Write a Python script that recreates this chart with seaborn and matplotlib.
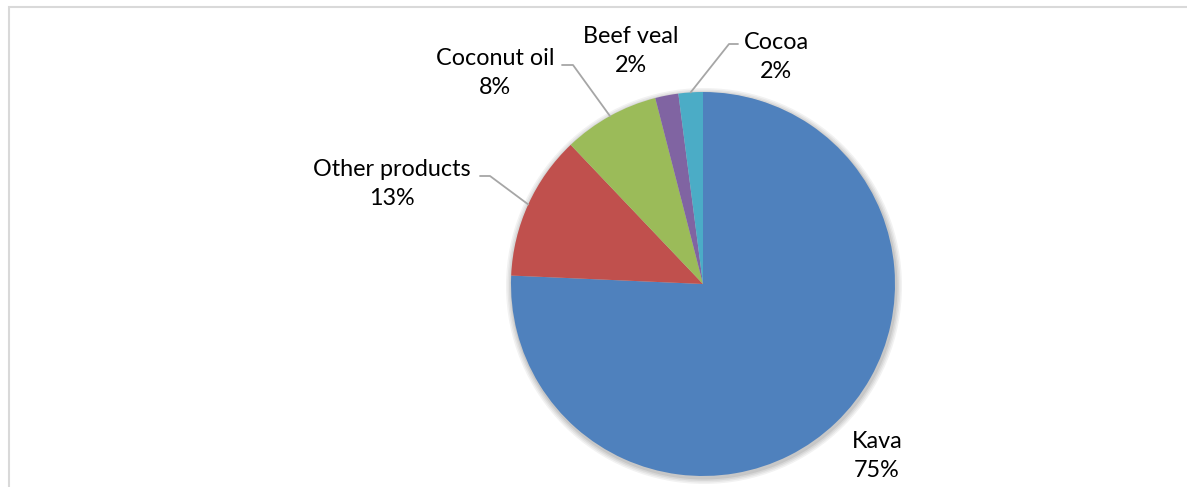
import numpy as np
import matplotlib.pyplot as plt
import seaborn as sns
from matplotlib.patches import Rectangle, Circle

# Data
products = ['Kava', 'Other products', 'Coconut oil', 'Beef veal', 'Cocoa']
shares = [75.7, 12.2, 8.1, 1.95, 2.05]
pct_labels = ['75%', '13%', '8%', '2%', '2%']
colors = ['#4F81BD', '#C0504D', '#9BBB59', '#8064A2', '#4BACC6']

sns.set_theme(style='white')
plt.rcParams['font.family'] = ['Lato', 'DejaVu Sans']

W, H = 1187, 487
fig = plt.figure(figsize=(W / 100, H / 100), dpi=100)
ax = fig.add_axes([0, 0, 1, 1])

# chart frame
ax.add_patch(Rectangle((9, -20), W + 20, H - 7 + 20, fill=False,
                       edgecolor='#D9D9D9', lw=1.5))

cx, cy, r = 703, H - 284, 192

# soft shadow behind the pie
for k, a in enumerate([0.05, 0.05, 0.06, 0.07]):
    ax.add_patch(Circle((cx + 1, cy - 2), r + 6 - k * 1.5, color='#000000',
                        alpha=a, lw=0, zorder=1))

wedges, _ = ax.pie(shares, colors=colors, startangle=90, counterclock=False,
                   center=(cx, cy), radius=r, frame=True,
                   wedgeprops=dict(linewidth=0, zorder=2))
ax.set_xlim(0, W)
ax.set_ylim(0, H)
ax.set_aspect('equal')
ax.axis('off')

# label positions (centre of the two-line label, image pixels) and leader elbows
label_pos = {
    'Kava': (877, 456),
    'Other products': (392, 184),
    'Coconut oil': (495, 73),
    'Beef veal': (631, 51),
    'Cocoa': (776, 57),
}
leaders = {
    'Other products': [(490, 176), (480, 176)],
    'Coconut oil': [(573, 65), (562, 65)],
    'Cocoa': [(729, 44), (738, 44)],
}

for w, name, pct in zip(wedges, products, pct_labels):
    lx, ly = label_pos[name]
    ax.text(lx, H - ly, f'{name}\n{pct}', ha='center', va='center',
            fontsize=16.8, color='#000000', linespacing=1.45, zorder=5)
    if name in leaders:
        ang = np.deg2rad((w.theta1 + w.theta2) / 2)
        px, py = cx + r * np.cos(ang), cy + r * np.sin(ang)
        xs = [px] + [p[0] for p in leaders[name]]
        ys = [py] + [H - p[1] for p in leaders[name]]
        ax.plot(xs, ys, color='#A6A6A6', lw=1.3, zorder=4)

fig.savefig('out.png', dpi=100)
